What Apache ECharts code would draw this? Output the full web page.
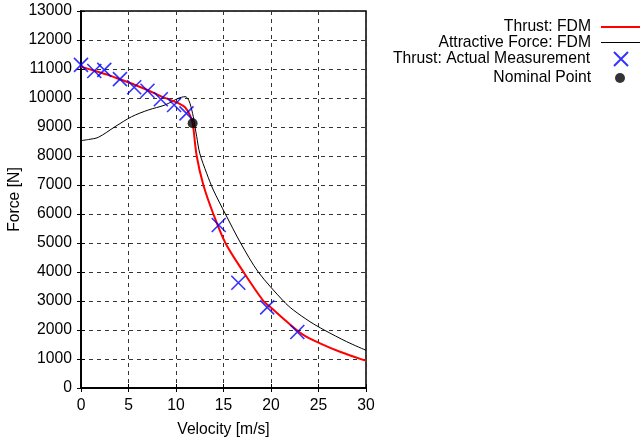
<!DOCTYPE html>
<html><head><meta charset="utf-8">
<script src="https://cdn.jsdelivr.net/npm/echarts@6/dist/echarts.min.js"></script>
<style>html,body{margin:0;padding:0;background:#fff}#c{width:640px;height:443px}</style>
</head><body><div id="c"></div>
<script>
const thrustV = [0, 1.5, 2.9, 4.3, 5.7, 7.1, 8.5, 9.5, 10.24, 10.95, 11.47, 11.76, 11.82, 12.18, 12.88, 13.93, 15.2, 17.1, 19.2, 19.9, 21.65, 23.4, 25.16, 27.26, 29.7, 30];
const thrustF = [11080, 10930, 10790, 10620, 10450, 10260, 10050, 9920, 9820, 9680, 9410, 9130, 9000, 8000, 7000, 6000, 5000, 4000, 3000, 2800, 2290, 1830, 1540, 1250, 970, 950];
const attrV = [0, 0.8, 1.82, 3.58, 5.33, 7.08, 8.84, 10.24, 10.95, 11.2, 11.47, 11.82, 12.0, 12.18, 12.5, 13.23, 13.93, 15.2, 16.8, 18.66, 21.3, 22.35, 24.1, 25.6, 27.97, 30];
const attrF = [8530, 8570, 8643, 9010, 9355, 9586, 9759, 9988, 10046, 10000, 9817, 9356, 9000, 8666, 8092, 7402, 6828, 6000, 5000, 4000, 3000, 2690, 2287, 2000, 1597, 1300];
const measV = [0, 1.4, 2.45, 4.1, 5.6, 7.0, 8.4, 9.8, 11.1, 14.5, 16.56, 19.6, 22.77];
const measF = [11140, 10930, 10970, 10650, 10370, 10250, 9955, 9760, 9470, 5620, 3630, 2780, 1930];
const nomV = [11.75];
const nomF = [9130];
const xTicks = {min: 0, max: 30, interval: 5};
const yTicks = {min: 0, max: 13000, interval: 1000};
const names = ['Thrust: FDM', 'Attractive Force: FDM', 'Thrust: Actual Measurement', 'Nominal Point'];

const zip = (a, b) => a.map((v, i) => [v, b[i]]);
const FONT = '"Liberation Sans", Arial, sans-serif';
const FS = 15.7;
const chart = echarts.init(document.getElementById('c'), null, {renderer: 'canvas'});
const legendItem = (name, icon, iw, ih, right, top, pad) => ({
  data: [{name: name, icon: icon}], right: right, top: top, orient: 'vertical', align: 'right', padding: 0,
  itemWidth: iw, itemHeight: ih,
  textStyle: {fontSize: FS, fontFamily: FONT, color: '#000', padding: [0, pad, 0, 0]}
});
const gridLine = {show: true, lineStyle: {color: '#333', type: [4, 4], width: 1}};
const crossPath = 'path://M0,0L10,10M10,0L0,10';
chart.setOption({
  animation: false,
  backgroundColor: '#fff',
  grid: {left: 81, right: 274, top: 11, bottom: 55, show: true, borderColor: '#000', borderWidth: 1.5},
  legend: [
    legendItem(names[0], 'rect', 39, 2, 0, 19, 5),
    legendItem(names[1], 'rect', 39, 1, 0, 34.5, 5),
    legendItem(names[2], crossPath, 14, 14, 11, 51, 19),
    legendItem(names[3], 'circle', 10, 10, 15, 70, 19)
  ],
  xAxis: [{
    type: 'value', min: xTicks.min, max: xTicks.max, interval: xTicks.interval,
    name: 'Velocity [m/s]', nameLocation: 'middle', nameGap: 34,
    nameTextStyle: {fontSize: FS, fontFamily: FONT, color: '#000'},
    axisLine: {show: true, lineStyle: {color: '#000', width: 1.5}},
    axisTick: {show: true, inside: true, length: 4, lineStyle: {color: '#000'}},
    axisLabel: {fontSize: FS, fontFamily: FONT, color: '#000', margin: 10},
    splitLine: gridLine
  }, {
    type: 'value', position: 'top', min: xTicks.min, max: xTicks.max, interval: xTicks.interval,
    axisLine: {show: true, lineStyle: {color: '#000', width: 1.5}},
    axisTick: {show: true, inside: true, length: 4, lineStyle: {color: '#000'}},
    axisLabel: {show: false}, splitLine: {show: false}
  }],
  yAxis: [{
    type: 'value', min: yTicks.min, max: yTicks.max, interval: yTicks.interval,
    name: 'Force [N]', nameLocation: 'middle', nameGap: 58, nameRotate: 90,
    nameTextStyle: {fontSize: FS, fontFamily: FONT, color: '#000'},
    axisLine: {show: true, lineStyle: {color: '#000', width: 1.5}},
    axisTick: {show: true, inside: true, length: 4, lineStyle: {color: '#000'}},
    axisLabel: {fontSize: FS, fontFamily: FONT, color: '#000', margin: 9, formatter: v => String(v)},
    splitLine: gridLine
  }, {
    type: 'value', position: 'right', min: yTicks.min, max: yTicks.max, interval: yTicks.interval,
    axisLine: {show: true, lineStyle: {color: '#000', width: 1.5}},
    axisTick: {show: true, inside: true, length: 4, lineStyle: {color: '#000'}},
    axisLabel: {show: false}, splitLine: {show: false}
  }],
  series: [
    {name: names[0], type: 'line', data: zip(thrustV, thrustF), symbol: 'none', smooth: 0.3,
     lineStyle: {color: '#ff0000', width: 2}, itemStyle: {color: '#ff0000'}, z: 3},
    {name: names[1], type: 'line', data: zip(attrV, attrF), symbol: 'none', smooth: 0.3,
     lineStyle: {color: '#000', width: 1}, itemStyle: {color: '#000'}, z: 2},
    {name: names[2], type: 'scatter', data: zip(measV, measF), symbol: crossPath, symbolSize: 14,
     itemStyle: {color: 'rgba(0,0,0,0)', borderColor: '#0000ff', borderWidth: 1.6}, z: 4},
    {name: names[3], type: 'scatter', data: zip(nomV, nomF), symbol: 'circle', symbolSize: 10,
     itemStyle: {color: '#000'}, z: 5}
  ]
});
</script></body></html>
